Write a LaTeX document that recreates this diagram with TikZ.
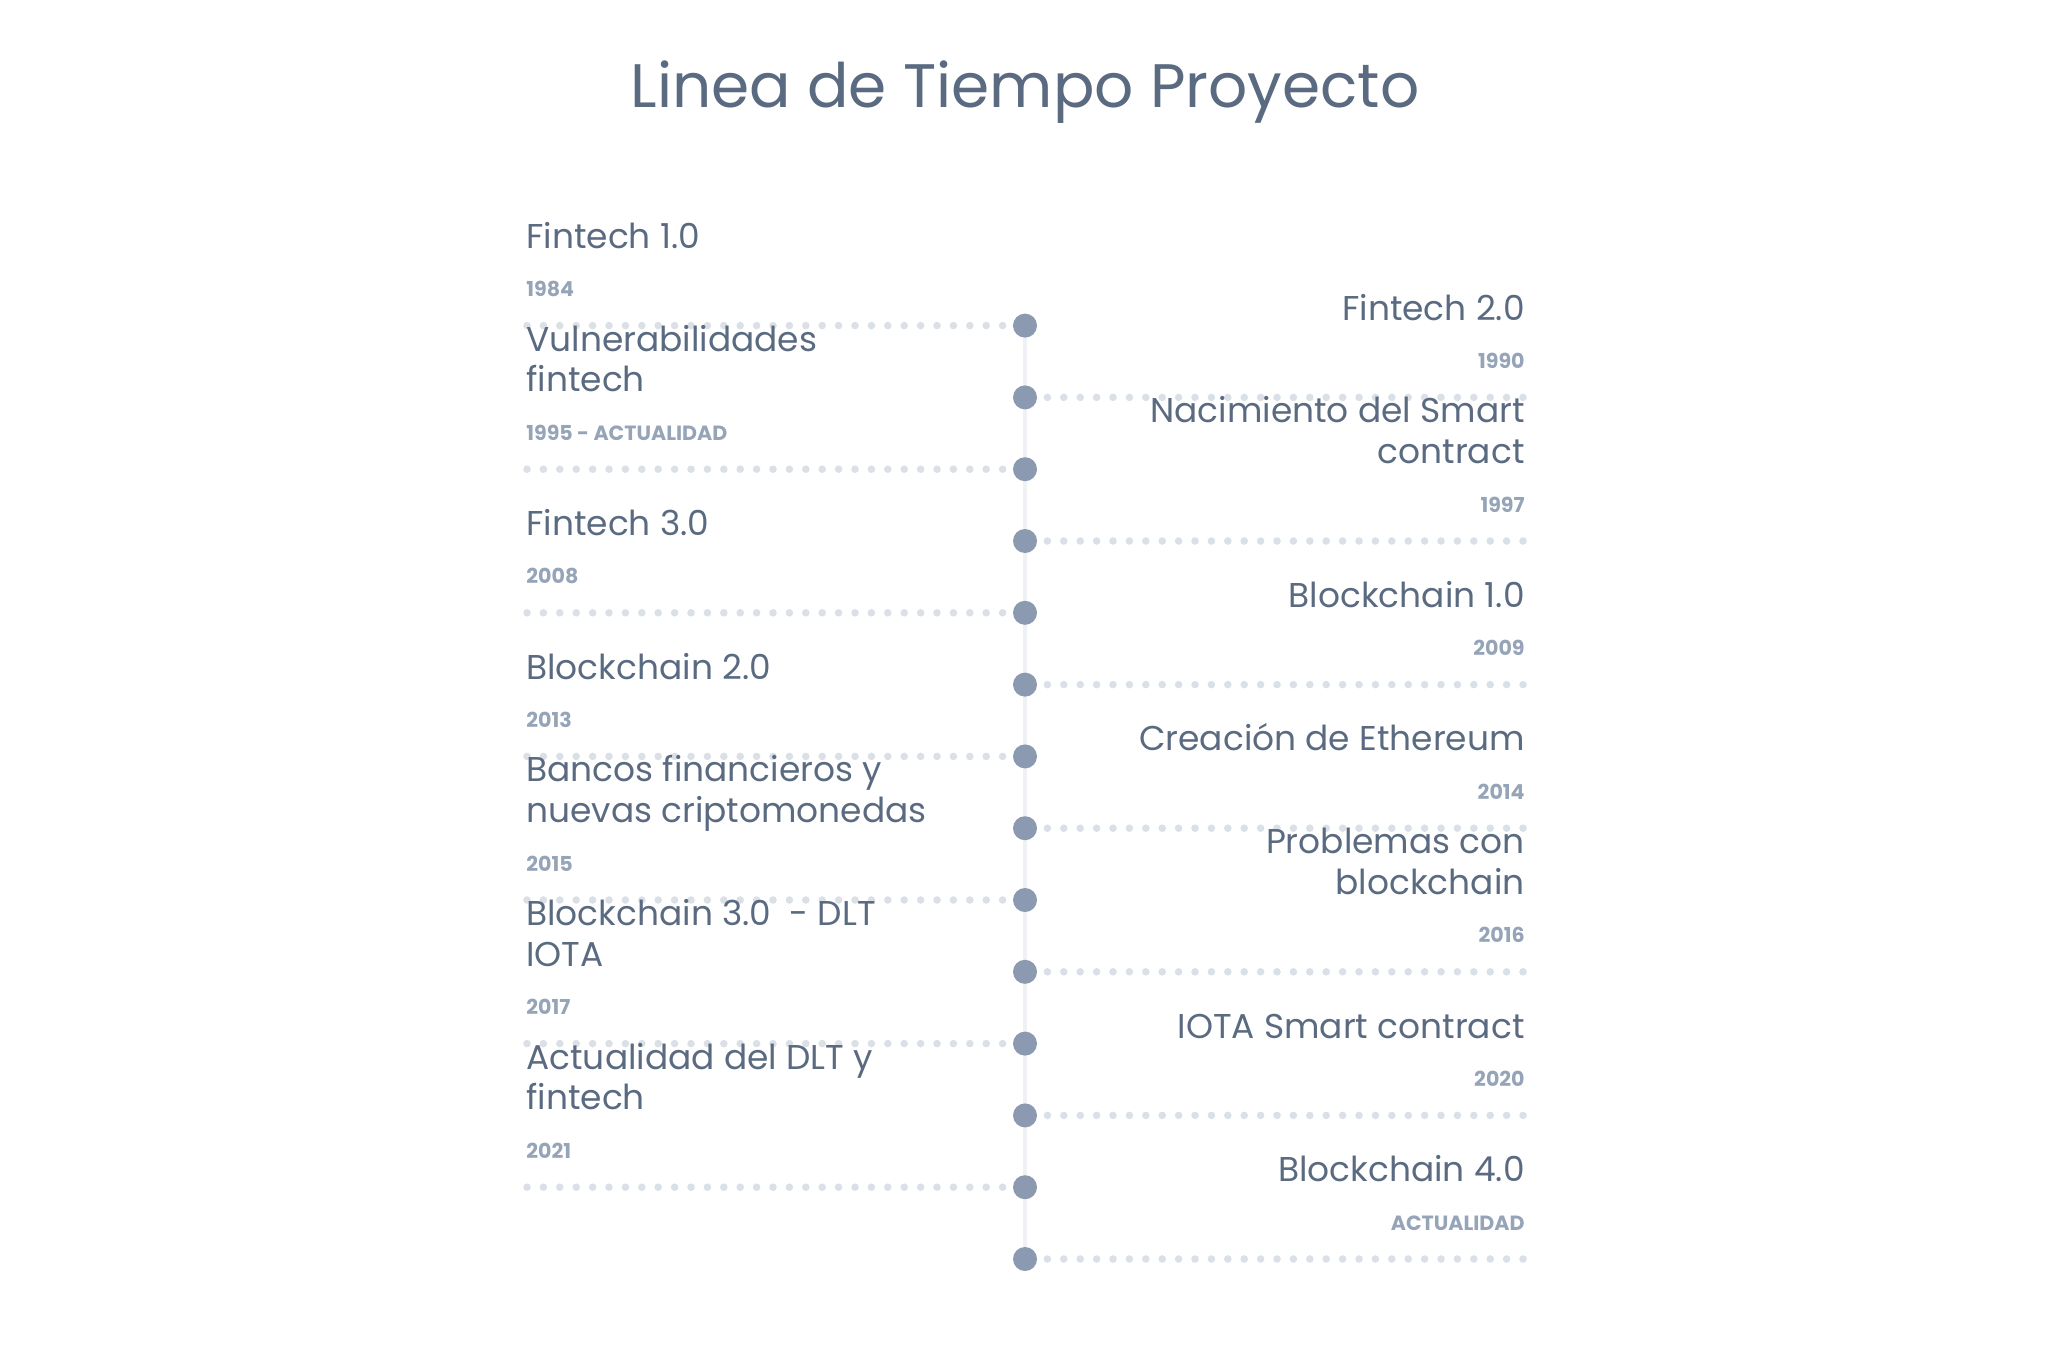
\documentclass[tikz,border=0pt]{standalone}
\usepackage{fontspec}
\setmainfont{Poppins}
\usetikzlibrary{backgrounds}
\definecolor{tlslate}{RGB}{90,106,128}
\definecolor{tlyear}{RGB}{150,164,184}
\definecolor{tldot}{RGB}{139,154,176}
\definecolor{tlgrid}{RGB}{219,224,231}
\definecolor{tlspine}{RGB}{240,241,244}

\begin{document}
\begin{tikzpicture}[x=0.5pt,y=-0.5pt,
  hito/.style={circle,fill=tldot,minimum size=12pt,inner sep=0pt},
  izq/.style={anchor=south west,inner sep=0pt,align=left,text depth=0pt,text=tlslate,font=\fontsize{17.2}{20.4}\selectfont},
  der/.style={anchor=south east,inner sep=0pt,align=right,text depth=0pt,text=tlslate,font=\fontsize{17.2}{20.4}\selectfont},
  izqano/.style={anchor=base west,inner sep=0pt,text=tlyear,font=\fontsize{10.3}{12}\selectfont\bfseries},
  derano/.style={anchor=base east,inner sep=0pt,text=tlyear,font=\fontsize{10.3}{12}\selectfont\bfseries},
  puntos/.style={tlgrid,line width=3.8pt,line cap=round,dash pattern=on 0pt off 8.2pt},
  eje/.style={tlspine,line width=2.2pt}]
\useasboundingbox (0,0) rectangle (2048,1364);

% titulo
\node[anchor=base,inner sep=0pt,text=tlslate,font=\fontsize{30.7}{36}\selectfont] (titulo) at (1025,108) {Linea de Tiempo Proyecto};

% hitos
\node[hito] (p1) at (1025,325.6) {};
\node[hito] (p2) at (1025,397.4) {};
\node[hito] (p3) at (1025,469.2) {};
\node[hito] (p4) at (1025,541.0) {};
\node[hito] (p5) at (1025,612.8) {};
\node[hito] (p6) at (1025,684.6) {};
\node[hito] (p7) at (1025,756.4) {};
\node[hito] (p8) at (1025,828.2) {};
\node[hito] (p9) at (1025,900.0) {};
\node[hito] (p10) at (1025,971.8) {};
\node[hito] (p11) at (1025,1043.6) {};
\node[hito] (p12) at (1025,1115.4) {};
\node[hito] (p13) at (1025,1187.2) {};
\node[hito] (p14) at (1025,1259.0) {};

% extremos de las lineas punteadas
\coordinate (a1) at (527,325.6);
\coordinate (b2) at (1523,397.4);
\coordinate (a3) at (527,469.2);
\coordinate (b4) at (1523,541.0);
\coordinate (a5) at (527,612.8);
\coordinate (b6) at (1523,684.6);
\coordinate (a7) at (527,756.4);
\coordinate (b8) at (1523,828.2);
\coordinate (a9) at (527,900.0);
\coordinate (b10) at (1523,971.8);
\coordinate (a11) at (527,1043.6);
\coordinate (b12) at (1523,1115.4);
\coordinate (a13) at (527,1187.2);
\coordinate (b14) at (1523,1259.0);

% lado izquierdo
\node[izq] (t1) at (526,248.6) {Fintech 1.0};
\node[izqano] (y1) at (526,296.6) {1984};
\node[izq] (t3) at (526,392.2) {Vulnerabilidades\\fintech};
\node[izqano] (y3) at (526,440.2) {1995 - ACTUALIDAD};
\node[izq] (t5) at (526,535.8) {Fintech 3.0};
\node[izqano] (y5) at (526,583.8) {2008};
\node[izq] (t7) at (526,679.4) {Blockchain 2.0};
\node[izqano] (y7) at (526,727.4) {2013};
\node[izq] (t9) at (526,823.0) {Bancos financieros y\\nuevas criptomonedas};
\node[izqano] (y9) at (526,871.0) {2015};
\node[izq] (t11) at (526,966.6) {Blockchain 3.0\ \ - DLT\\IOTA};
\node[izqano] (y11) at (526,1014.6) {2017};
\node[izq] (t13) at (526,1110.2) {Actualidad del DLT y\\fintech};
\node[izqano] (y13) at (526,1158.2) {2021};

% lado derecho
\node[der] (t2) at (1525,320.4) {Fintech 2.0};
\node[derano] (y2) at (1525,368.4) {1990};
\node[der] (t4) at (1525,464.0) {Nacimiento del Smart\\contract};
\node[derano] (y4) at (1525,512.0) {1997};
\node[der] (t6) at (1525,607.6) {Blockchain 1.0};
\node[derano] (y6) at (1525,655.6) {2009};
\node[der] (t8) at (1525,751.2) {Creación de Ethereum};
\node[derano] (y8) at (1525,799.2) {2014};
\node[der] (t10) at (1525,894.8) {Problemas con\\blockchain};
\node[derano] (y10) at (1525,942.8) {2016};
\node[der] (t12) at (1525,1038.4) {IOTA Smart contract};
\node[derano] (y12) at (1525,1086.4) {2020};
\node[der] (t14) at (1525,1182.0) {Blockchain 4.0};
\node[derano] (y14) at (1525,1230.0) {ACTUALIDAD};

% lineas
\begin{pgfonlayer}{background}
\draw[eje] (p1.center) -- (p14.center);
\draw[puntos] (a1) -- (p1.center);
\draw[puntos] (b2) -- (p2.center);
\draw[puntos] (a3) -- (p3.center);
\draw[puntos] (b4) -- (p4.center);
\draw[puntos] (a5) -- (p5.center);
\draw[puntos] (b6) -- (p6.center);
\draw[puntos] (a7) -- (p7.center);
\draw[puntos] (b8) -- (p8.center);
\draw[puntos] (a9) -- (p9.center);
\draw[puntos] (b10) -- (p10.center);
\draw[puntos] (a11) -- (p11.center);
\draw[puntos] (b12) -- (p12.center);
\draw[puntos] (a13) -- (p13.center);
\draw[puntos] (b14) -- (p14.center);
\end{pgfonlayer}
\end{tikzpicture}
\end{document}
